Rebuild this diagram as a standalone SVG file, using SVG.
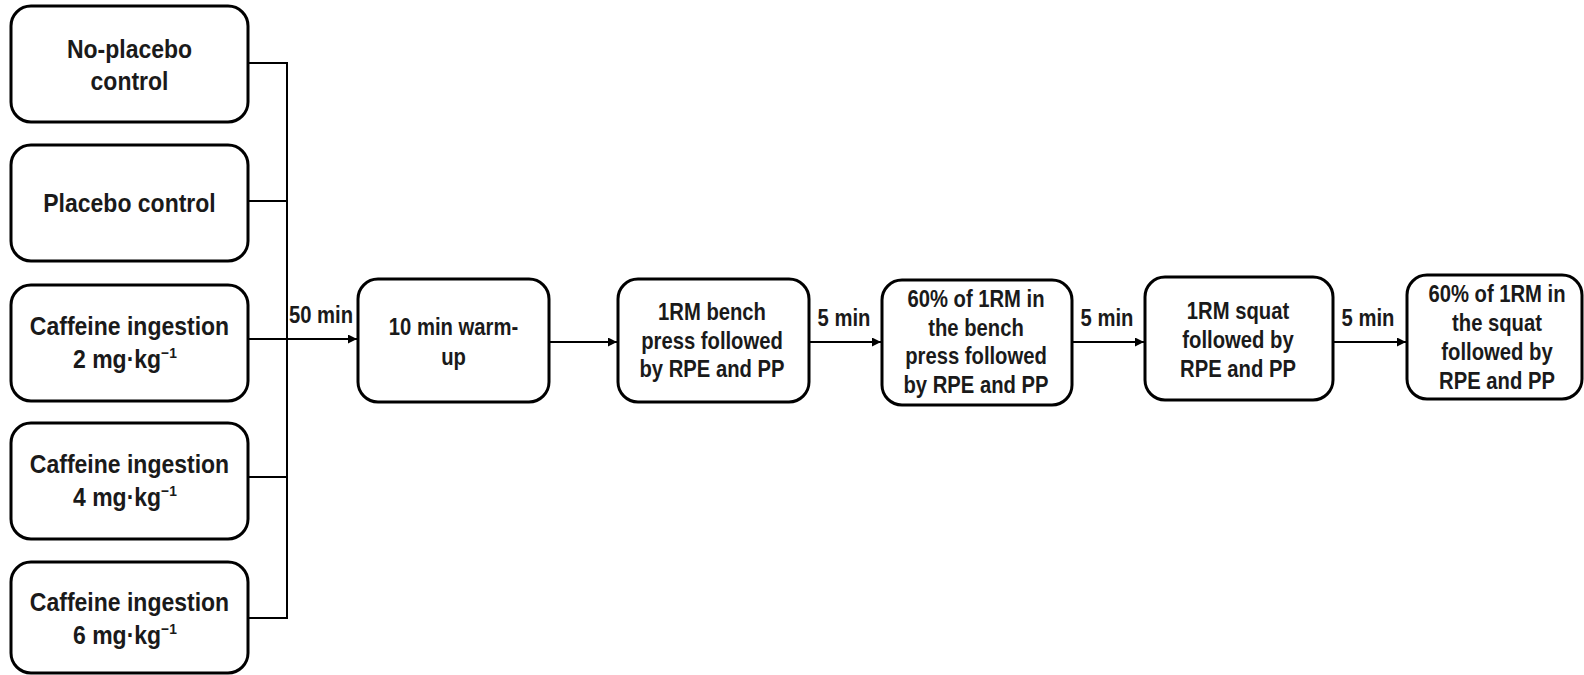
<svg xmlns="http://www.w3.org/2000/svg" width="1584" height="675" viewBox="0 0 1584 675">
  <style>
    .box { fill: #ffffff; stroke: #000000; stroke-width: 3; }
    .wire { fill: none; stroke: #000000; stroke-width: 2; }
    text { font-family: "Liberation Sans", Arial, sans-serif; font-weight: bold; fill: #1a1a1a; text-anchor: middle; }
    .lg { font-size: 25px; }
    .sm { font-size: 23px; }
    .sup { font-size: 15px; }
  </style>
  <defs>
    <marker id="arrow" viewBox="0 0 10 10" refX="10" refY="5" markerWidth="11" markerHeight="9" markerUnits="userSpaceOnUse" orient="auto">
      <path d="M0,0 L10,5 L0,10 z" fill="#000000"/>
    </marker>
  </defs>
  <rect width="1584" height="675" fill="#ffffff"/>

  <!-- connectors -->
  <g id="connectors">
    <path class="wire" d="M248,63 H287 V618 H248"/>
    <path class="wire" d="M248,201 H287"/>
    <path class="wire" d="M248,477 H287"/>
    <path class="wire" d="M248,339 H357" marker-end="url(#arrow)"/>
    <path class="wire" d="M549,342 H617" marker-end="url(#arrow)"/>
    <path class="wire" d="M809,342 H881" marker-end="url(#arrow)"/>
    <path class="wire" d="M1072,342 H1144" marker-end="url(#arrow)"/>
    <path class="wire" d="M1333,342 H1406" marker-end="url(#arrow)"/>
    <text class="sm" transform="translate(321,323) scale(0.88,1)">50 min</text>
    <text class="sm" transform="translate(844,326) scale(0.88,1)">5 min</text>
    <text class="sm" transform="translate(1107,326) scale(0.88,1)">5 min</text>
    <text class="sm" transform="translate(1368,326) scale(0.88,1)">5 min</text>
  </g>

  <!-- study conditions -->
  <g id="no-placebo">
    <rect class="box" x="11" y="6" width="237" height="116" rx="20"/>
    <text class="lg" transform="translate(129.5,58) scale(0.92,1)"><tspan x="0">No-placebo</tspan><tspan x="0" dy="32">control</tspan></text>
  </g>
  <g id="placebo">
    <rect class="box" x="11" y="145" width="237" height="116" rx="20"/>
    <text class="lg" transform="translate(129.5,212) scale(0.92,1)">Placebo control</text>
  </g>
  <g id="caffeine-2">
    <rect class="box" x="11" y="285" width="237" height="116" rx="20"/>
    <text class="lg" transform="translate(129.5,335) scale(0.92,1)"><tspan x="0">Caffeine ingestion</tspan><tspan x="-5" dy="33">2 mg·kg</tspan><tspan class="sup" dy="-10">−1</tspan></text>
  </g>
  <g id="caffeine-4">
    <rect class="box" x="11" y="423" width="237" height="116" rx="20"/>
    <text class="lg" transform="translate(129.5,473) scale(0.92,1)"><tspan x="0">Caffeine ingestion</tspan><tspan x="-5" dy="33">4 mg·kg</tspan><tspan class="sup" dy="-10">−1</tspan></text>
  </g>
  <g id="caffeine-6">
    <rect class="box" x="11" y="562" width="237" height="111" rx="20"/>
    <text class="lg" transform="translate(129.5,611) scale(0.92,1)"><tspan x="0">Caffeine ingestion</tspan><tspan x="-5" dy="33">6 mg·kg</tspan><tspan class="sup" dy="-10">−1</tspan></text>
  </g>

  <!-- testing sequence -->
  <g id="warm-up">
    <rect class="box" x="358" y="279" width="191" height="123" rx="20"/>
    <text class="sm" transform="translate(453.5,335) scale(0.88,1)"><tspan x="0">10 min warm-</tspan><tspan x="0" dy="30">up</tspan></text>
  </g>
  <g id="bench-1rm">
    <rect class="box" x="618" y="279" width="191" height="123" rx="20"/>
    <text class="sm" transform="translate(712,320) scale(0.88,1)"><tspan x="0">1RM bench</tspan><tspan x="0" dy="29">press followed</tspan><tspan x="0" dy="28.5">by RPE and PP</tspan></text>
  </g>
  <g id="bench-60">
    <rect class="box" x="882" y="280" width="190" height="125" rx="20"/>
    <text class="sm" transform="translate(976,307) scale(0.88,1)"><tspan x="0">60% of 1RM in</tspan><tspan x="0" dy="29">the bench</tspan><tspan x="0" dy="28.5">press followed</tspan><tspan x="0" dy="28.5">by RPE and PP</tspan></text>
  </g>
  <g id="squat-1rm">
    <rect class="box" x="1145" y="277" width="188" height="123" rx="20"/>
    <text class="sm" transform="translate(1238,319) scale(0.88,1)"><tspan x="0">1RM squat</tspan><tspan x="0" dy="29">followed by</tspan><tspan x="0" dy="29">RPE and PP</tspan></text>
  </g>
  <g id="squat-60">
    <rect class="box" x="1407" y="275" width="175" height="124" rx="20"/>
    <text class="sm" transform="translate(1497,302) scale(0.88,1)"><tspan x="0">60% of 1RM in</tspan><tspan x="0" dy="29">the squat</tspan><tspan x="0" dy="29">followed by</tspan><tspan x="0" dy="29">RPE and PP</tspan></text>
  </g>
</svg>
